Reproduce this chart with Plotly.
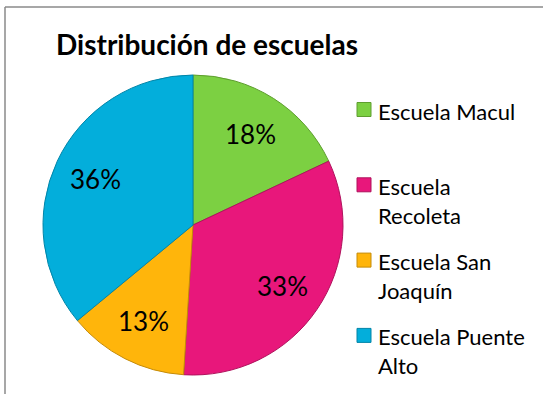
import math
import textwrap
import plotly.graph_objects as go

# School distribution data
schools = ["Escuela Macul", "Escuela Recoleta", "Escuela San Joaquín", "Escuela Puente Alto"]
shares = [18, 33, 13, 36]
fill_colors = ["#7CD042", "#E8177B", "#FFB50B", "#03AEDB"]
edge_colors = ["#5E9E2F", "#B0125D", "#C58B08", "#0285A8"]
title_text = "Distribución de escuelas"

W, H = 543, 394
FONT = "Lato"


def px(x):
    return x / W


def py(y):
    return 1 - y / H


# pie geometry (pixels)
cx, cy, r = 193, 225, 150

fig = go.Figure(
    go.Pie(
        labels=schools,
        values=shares,
        sort=False,
        direction="clockwise",
        rotation=0,
        marker=dict(colors=fill_colors, line=dict(color=edge_colors, width=1)),
        textinfo="none",
        domain=dict(x=[px(cx - r), px(cx + r)], y=[py(cy + r), py(cy - r)]),
        showlegend=False,
        hoverinfo="label+percent",
    )
)

annotations = [
    dict(
        text=title_text,
        x=px(54), y=py(44), xref="paper", yref="paper",
        xanchor="left", yanchor="middle", showarrow=False,
        font=dict(family=FONT, size=28, color="#000000", weight="bold"),
    )
]

# percentage labels along each slice bisector (clockwise from 12 o'clock)
total = sum(shares)
cum = 0
for v in shares:
    mid = (cum + v / 2) / total * 2 * math.pi
    cum += v
    rl = 0.72 * r
    annotations.append(dict(
        text=f"{round(100 * v / total)}%",
        x=px(cx + rl * math.sin(mid)), y=py(cy - rl * math.cos(mid)),
        xref="paper", yref="paper", xanchor="center", yanchor="middle",
        showarrow=False, font=dict(family=FONT, size=26, color="#000000"),
    ))

shapes = [
    # chart frame (top and left edges)
    dict(type="line", xref="paper", yref="paper", x0=px(5), x1=1, y0=py(7), y1=py(7),
         line=dict(color="#8A8A8A", width=1.5)),
    dict(type="line", xref="paper", yref="paper", x0=px(5), x1=px(5), y0=py(7), y1=0,
         line=dict(color="#8A8A8A", width=1.5)),
]

# hand-laid legend: square swatch + wrapped label for each school
leg_x, sw, first_y, step = 357, 14, 109.5, 75.3
for i, (name, fc, ec) in enumerate(zip(schools, fill_colors, edge_colors)):
    yc = first_y + i * step
    shapes.append(dict(type="rect", xref="paper", yref="paper",
                       x0=px(leg_x), x1=px(leg_x + sw), y0=py(yc - sw / 2), y1=py(yc + sw / 2),
                       fillcolor=fc, line=dict(color=ec, width=1)))
    annotations.append(dict(
        text="<br>".join(textwrap.wrap(name, 14)),
        x=px(leg_x + sw + 5), y=py(yc - 14), xref="paper", yref="paper",
        xanchor="left", yanchor="top", align="left", showarrow=False,
        font=dict(family=FONT, size=22, color="#000000"),
    ))

fig.update_layout(
    width=W, height=H,
    margin=dict(l=0, r=0, t=0, b=0),
    paper_bgcolor="#FFFFFF",
    plot_bgcolor="#FFFFFF",
    annotations=annotations,
    shapes=shapes,
)

fig.write_html("out.html")
